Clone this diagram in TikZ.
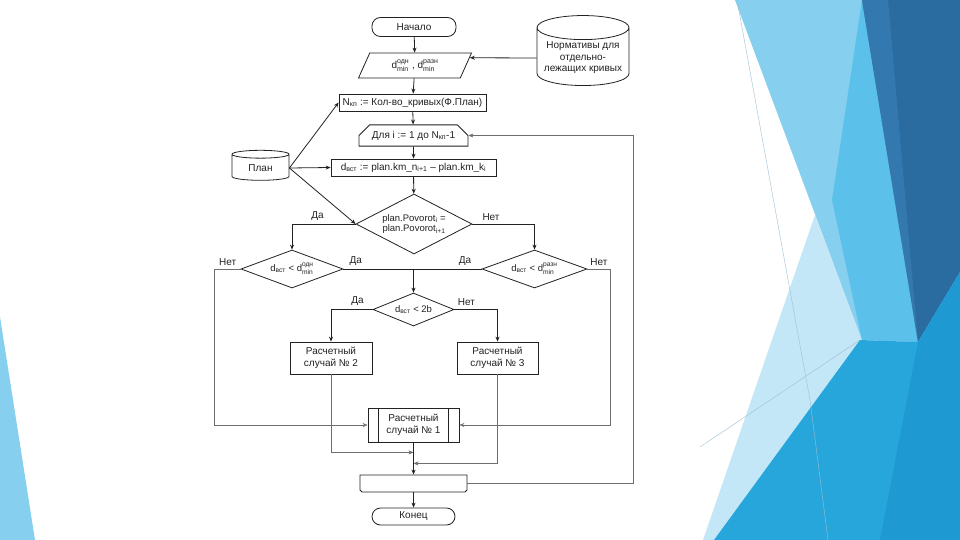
\documentclass[tikz,border=0pt]{standalone}
\usepackage{amsmath}
\usepackage{fontspec}
\setmainfont{Liberation Sans}
\usetikzlibrary{shapes.geometric,shapes.misc,arrows.meta,calc}

\definecolor{ink}{HTML}{222222}
\definecolor{wire}{HTML}{6E6E6E}
\definecolor{pale}{HTML}{C4E7F7}
\definecolor{light}{HTML}{86CFEF}
\definecolor{medium}{HTML}{5BC0EA}
\definecolor{dark}{HTML}{2A6BA0}
\definecolor{darkb}{HTML}{3478B0}
\definecolor{bright}{HTML}{27A6DC}
\definecolor{brightb}{HTML}{1F99D1}
\definecolor{lineblue}{HTML}{9DBFD3}

\newcommand{\dmin}[1]{d$^{\text{#1}}_{\text{min}}$}

\tikzset{
  every node/.style={font=\fontsize{10}{11.5}\selectfont, text=ink},
  blk/.style={draw=ink, line width=0.8pt, inner sep=1pt, align=center},
  term/.style={blk, rounded corners=8.5pt},
  io/.style={blk, trapezium, trapezium left angle=51, trapezium right angle=129,
    trapezium stretches body=true},
  store/.style={blk, cylinder, shape border rotate=90, aspect=0.3},
  cond/.style={blk, diamond, inner sep=0pt, font=\fontsize{9.5}{10.5}\selectfont},
  loopbeg/.style={blk, chamfered rectangle, chamfered rectangle corners={north west,north east},
    chamfered rectangle xsep=7pt, chamfered rectangle ysep=5pt},
  loopend/.style={blk, chamfered rectangle, chamfered rectangle corners={south west,south east},
    chamfered rectangle xsep=7pt, chamfered rectangle ysep=5pt},
  arr/.style={draw=ink, line width=0.8pt, -{Stealth[length=5pt,width=4pt]}},
  thinarr/.style={draw=wire, line width=0.5pt, -{Stealth[length=5pt,width=4pt]}},
  wireline/.style={draw=ink, line width=0.8pt}
}

\begin{document}
\begin{tikzpicture}[x=1pt,y=-1pt]
\useasboundingbox (0,0) rectangle (960,540);
\fill[white] (0,0) rectangle (960,540);

% slide background
\fill[pale] (815,215) -- (862,340) -- (760,540) -- (703,540) -- cycle;
\fill[light] (735,0) -- (862,0) -- (918,342) -- (862,340) -- cycle;
\fill[medium] (862,0) -- (918,342) -- (862,340) -- (832,200) -- cycle;
\fill[dark] (862,0) -- (960,0) -- (960,272) -- (918,342) -- cycle;
\fill[darkb] (862,0) -- (888,0) -- (918,342) -- cycle;
\fill[bright] (714,540) -- (860,340) -- (918,342) -- (960,272) -- (960,540) -- cycle;
\fill[brightb] (918,342) -- (960,272) -- (960,540) -- (880,540) -- cycle;
\draw[lineblue, line width=0.4pt] (737,0) -- (810,400) -- (828,540);
\draw[lineblue, line width=0.4pt] (700,447) -- (860,340);
\fill[light] (0,317) -- (35,540) -- (0,540) -- cycle;

% blocks
\node[term, minimum width=84pt, minimum height=19pt] (start) at (414,27) {Начало};
\node[io, minimum width=113pt, minimum height=25pt] (inp) at (415,65.5) {\dmin{одн}\;,\;\dmin{разн}};
\node[store, minimum width=92pt, minimum height=70pt] (norm) at (583,58) {Нормативы для\\отдельно-\\лежащих кривых};
\node[blk, minimum width=147pt, minimum height=17pt] (count) at (412.5,102.5) {N\textsubscript{кп} := Кол-во\_кривых(Ф.План)};
\node[loopbeg, minimum width=109pt, minimum height=17pt] (loop) at (413.5,135.5) {Для i := 1 до N\textsubscript{кп}-1};
\node[store, minimum width=57pt, minimum height=30pt] (plan) at (260.5,168) {План};
\node[blk, minimum width=165pt, minimum height=17pt] (gap) at (413.5,167.5) {d\textsubscript{вст} := plan.km\_n\textsubscript{i+1} – plan.km\_k\textsubscript{i}};
\node[cond, aspect=1.93, minimum width=116pt, minimum height=60pt] (turn) at (414,224) {plan.Povorot\textsubscript{i} =\\plan.Povorot\textsubscript{i+1}};
\node[cond, aspect=2.7, minimum width=102pt, minimum height=38pt] (same) at (292,269) {d\textsubscript{вст} < \dmin{одн}};
\node[cond, aspect=2.7, minimum width=105pt, minimum height=38pt] (diff) at (534.5,269) {d\textsubscript{вст} < \dmin{разн}};
\node[cond, aspect=2.45, minimum width=81pt, minimum height=33pt] (short) at (413.5,309.5) {d\textsubscript{вст} < 2b};
\node[blk, minimum width=82pt, minimum height=32pt] (case2) at (331,358) {Расчетный\\случай № 2};
\node[blk, minimum width=81pt, minimum height=32pt] (case3) at (497.5,358) {Расчетный\\случай № 3};
\node[blk, minimum width=91pt, minimum height=34pt] (case1) at (413.5,425) {Расчетный\\случай № 1};
\draw[wireline] ([xshift=11pt]case1.north west) -- ([xshift=11pt]case1.south west)
  ([xshift=-11pt]case1.north east) -- ([xshift=-11pt]case1.south east);
\node[loopend, minimum width=107pt, minimum height=17pt] (lend) at (413.5,483.5) {};
\node[term, minimum width=83pt, minimum height=17pt] (stop) at (413.5,516.5) {Конец};

% connectors
\draw[arr] (start) -- (inp);
\draw[arr] (norm.180) -- ($(inp.right side)!0.6!(inp.top right corner)$);
\draw[arr] (inp) -- (count);
\draw[arr] (count) -- (loop);
\draw[arr] (loop) -- (gap);
\draw[arr] (gap) -- (turn);
\draw[arr] (plan.0) -- (count.west);
\draw[arr] (plan.0) -- (gap.west);
\draw[arr] (plan.0) -- (turn.west);

\draw[arr] (turn.west) -| node[pos=0.3,above]{Да} (same.north);
\draw[arr] (turn.east) -| node[pos=0.15,above]{Нет} (diff.north);
\draw[wireline] (same.east) -- node[pos=0.09,above]{Да} node[pos=0.88,above]{Да} (diff.west);
\coordinate (fork) at (same.east -| short.north);
\draw[arr] (fork) -- (short.north);
\draw[thinarr] (same.west) -- node[above]{Нет} ++(-26,0) |- (case1.west);
\draw[thinarr] (diff.east) -- node[above]{Нет} ++(23,0) |- (case1.east);

\draw[arr] (short.west) -| node[pos=0.18,above]{Да} (case2.north);
\draw[arr] (short.east) -| node[pos=0.14,above]{Нет} (case3.north);
\coordinate (join2) at ($(case1.south)+(0,10)$);
\coordinate (join3) at ($(case1.south)+(0,21)$);
\draw[thinarr] (case2.south) |- (join2);
\draw[thinarr] (case3.south) |- (join3);
\draw[arr] (case1) -- (lend);
\draw[thinarr] (lend.east) -- ++(166,0) |- (loop.east);
\draw[arr] (lend) -- (stop);

\end{tikzpicture}
\end{document}
